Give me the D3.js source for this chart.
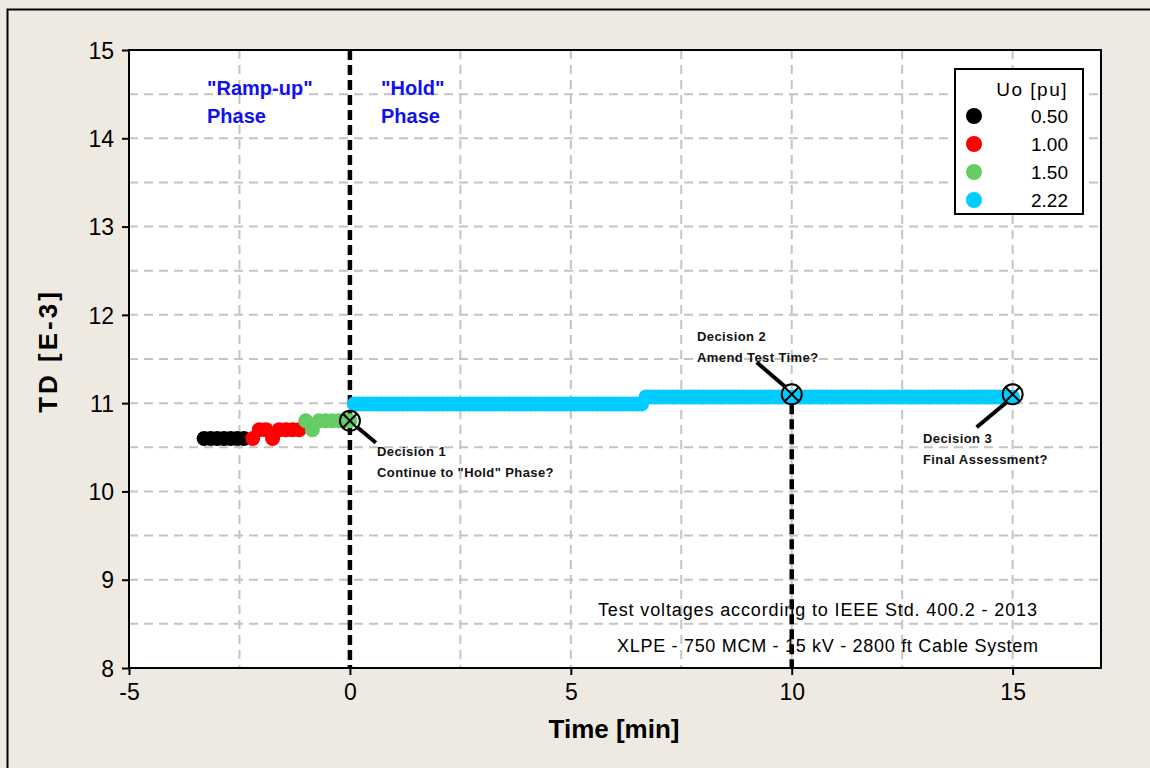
<!DOCTYPE html>
<html>
<head>
<meta charset="utf-8">
<script src="https://cdn.jsdelivr.net/npm/d3@7"></script>
<style>
	body { margin: 0; background: #eeeae1; }
	svg text { font-family: "Liberation Sans", Arial, sans-serif; }
</style>
</head>
<body>
<script>
// Ramp-up phase, one step per test voltage
const blackTime = [-3.3, -3.15, -3.0, -2.85, -2.7, -2.55, -2.4];
const blackTD = [10.6, 10.6, 10.6, 10.6, 10.6, 10.6, 10.6];
const redTime = [-2.2, -2.05, -1.9, -1.75, -1.6, -1.45, -1.3, -1.15];
const redTD = [10.6, 10.7, 10.7, 10.6, 10.7, 10.7, 10.7, 10.7];
const greenTime = [-1.0, -0.85, -0.7, -0.55, -0.4, -0.25, -0.1, 0.0];
const greenTD = [10.8, 10.7, 10.8, 10.8, 10.8, 10.8, 10.8, 10.8];

// Hold phase at 2.22 Uo, sampled every 0.1 min from 0.1 min
const holdStart = 0.1;
const holdStep = 0.1;
const holdTD = [
	10.99, 10.99, 10.99, 10.99, 10.99, 10.99, 10.99, 10.99, 10.99, 10.99,
	10.99, 10.99, 10.99, 10.99, 10.99, 10.99, 10.99, 10.99, 10.99, 10.99,
	10.99, 10.99, 10.99, 10.99, 10.99, 10.99, 10.99, 10.99, 10.99, 10.99,
	10.99, 10.99, 10.99, 10.99, 10.99, 10.99, 10.99, 10.99, 10.99, 10.99,
	10.99, 10.99, 10.99, 10.99, 10.99, 10.99, 10.99, 10.99, 10.99, 10.99,
	10.99, 10.99, 10.99, 10.99, 10.99, 10.99, 10.99, 10.99, 10.99, 10.99,
	10.99, 10.99, 10.99, 10.99, 10.99, 10.99, 11.07, 11.07, 11.07, 11.07,
	11.07, 11.07, 11.07, 11.07, 11.07, 11.07, 11.07, 11.07, 11.07, 11.07,
	11.07, 11.07, 11.07, 11.07, 11.07, 11.07, 11.07, 11.07, 11.07, 11.07,
	11.07, 11.07, 11.07, 11.07, 11.07, 11.07, 11.07, 11.07, 11.07, 11.07,
	11.07, 11.07, 11.07, 11.07, 11.07, 11.07, 11.07, 11.07, 11.07, 11.07,
	11.07, 11.07, 11.07, 11.07, 11.07, 11.07, 11.07, 11.07, 11.07, 11.07,
	11.07, 11.07, 11.07, 11.07, 11.07, 11.07, 11.07, 11.07, 11.07, 11.07,
	11.07, 11.07, 11.07, 11.07, 11.07, 11.07, 11.07, 11.07, 11.07, 11.07,
	11.07, 11.07, 11.07, 11.07, 11.07, 11.07, 11.07, 11.07, 11.07, 11.07
];

const seriesLabels = ['0.50', '1.00', '1.50', '2.22'];
const seriesColors = ['#000000', '#ff0000', '#66cc66', '#00ccff'];

const decisionTime = [0, 10, 15];
const decisionTD = [10.8, 11.1, 11.1];
const decisionTitles = ['Decision 1', 'Decision 2', 'Decision 3'];
const decisionQuestions = ['Continue to "Hold" Phase?', 'Amend Test Time?', 'Final Assessment?'];

const xTicks = [-5, 0, 5, 10, 15];
const yTicks = [8, 9, 10, 11, 12, 13, 14, 15];
const xGrid = [-2.5, 0, 2.5, 5, 7.5, 10, 12.5, 15];
const yGrid = [8.5, 9, 9.5, 10, 10.5, 11, 11.5, 12, 12.5, 13, 13.5, 14, 14.5];

const svg = d3.select('body')
	.append('svg')
	.attr('width', 1150)
	.attr('height', 768);

// outer frame
svg.append('path')
	.attr('d', 'M7.5,768 V9.5 H1150')
	.attr('fill', 'none')
	.attr('stroke', '#000')
	.attr('stroke-width', 2);

const xScale = d3.scaleLinear().domain([-5, 17]).range([129, 1101]);
const yScale = d3.scaleLinear().domain([8, 15]).range([668, 50]);

svg.append('rect')
	.attr('x', 129).attr('y', 50)
	.attr('width', 1101 - 129).attr('height', 668 - 50)
	.attr('fill', '#fff');

// grid
svg.append('g').selectAll('line')
	.data(xGrid)
	.enter().append('line')
	.attr('x1', d => xScale(d)).attr('x2', d => xScale(d))
	.attr('y1', 50).attr('y2', 668)
	.attr('stroke', '#c4c4c4').attr('stroke-width', 2)
	.attr('stroke-dasharray', '9,6');

svg.append('g').selectAll('line')
	.data(yGrid)
	.enter().append('line')
	.attr('y1', d => yScale(d)).attr('y2', d => yScale(d))
	.attr('x1', 129).attr('x2', 1101)
	.attr('stroke', '#c4c4c4').attr('stroke-width', 2)
	.attr('stroke-dasharray', '9,6');

// axes
const xAxis = d3.axisBottom(xScale).tickValues(xTicks).tickSize(7).tickPadding(9)
	.tickFormat(d => String(d));
const yAxis = d3.axisLeft(yScale).tickValues(yTicks).tickSize(7).tickPadding(8)
	.tickFormat(d => String(d));

const gx = svg.append('g')
	.attr('transform', 'translate(0,668)')
	.call(xAxis);
const gy = svg.append('g')
	.attr('transform', 'translate(129,0)')
	.call(yAxis);

[gx, gy].forEach(g => {
	g.select('.domain').remove();
	g.selectAll('line').attr('stroke', '#000').attr('stroke-width', 2);
	g.selectAll('text')
		.attr('fill', '#000')
		.style('font-size', '23px')
		.style('font-family', '"Liberation Sans", Arial, sans-serif');
});
gy.selectAll('text').attr('dy', '0.36em');

svg.append('text')
	.attr('x', 614).attr('y', 738)
	.attr('text-anchor', 'middle')
	.style('font-size', '26px').style('font-weight', 'bold')
	.text('Time [min]');

svg.append('text')
	.attr('transform', 'translate(57,351) rotate(-90)')
	.attr('text-anchor', 'middle')
	.style('font-size', '26px').style('font-weight', 'bold')
	.style('letter-spacing', '3px')
	.text('TD [E-3]');

// vertical phase / decision lines
svg.append('line')
	.attr('x1', xScale(0)).attr('x2', xScale(0))
	.attr('y1', yScale(15)).attr('y2', yScale(8))
	.attr('stroke', '#000').attr('stroke-width', 4.5)
	.attr('stroke-dasharray', '10,5');

svg.append('line')
	.attr('x1', xScale(10)).attr('x2', xScale(10))
	.attr('y1', yScale(11.1) + 10).attr('y2', yScale(8))
	.attr('stroke', '#000').attr('stroke-width', 4.5)
	.attr('stroke-dasharray', '10,5');

// points
const holdTime = holdTD.map((d, i) => +(holdStart + i * holdStep).toFixed(2));
const groups = [
	{ time: blackTime, td: blackTD, color: seriesColors[0] },
	{ time: redTime, td: redTD, color: seriesColors[1] },
	{ time: greenTime, td: greenTD, color: seriesColors[2] },
	{ time: holdTime, td: holdTD, color: seriesColors[3] }
];

groups.forEach(grp => {
	svg.append('g').selectAll('circle')
		.data(grp.time.map((t, i) => ({ t: t, v: grp.td[i] })))
		.enter().append('circle')
		.attr('cx', d => xScale(d.t))
		.attr('cy', d => yScale(d.v))
		.attr('r', 7.5)
		.attr('fill', grp.color);
});

// plot frame
svg.append('rect')
	.attr('x', 129).attr('y', 50)
	.attr('width', 1101 - 129).attr('height', 668 - 50)
	.attr('fill', 'none').attr('stroke', '#000').attr('stroke-width', 2);

// decision markers
const markR = 10;
const markers = svg.append('g').selectAll('g')
	.data(decisionTime.map((t, i) => ({ t: t, v: decisionTD[i] })))
	.enter().append('g')
	.attr('transform', d => `translate(${xScale(d.t)},${yScale(d.v)})`);

markers.append('circle')
	.attr('r', markR)
	.attr('fill', 'none').attr('stroke', '#000').attr('stroke-width', 2);
markers.append('path')
	.attr('d', 'M-7,-7L7,7M7,-7L-7,7')
	.attr('stroke', '#000').attr('stroke-width', 2);

// leader lines (offsets in pixels from each marker)
const leaderFrom = [[8, 7], [-6, -7], [-6, 8]];
const leaderTo = [[26, 22], [-35, -32], [-36, 33]];
markers.append('line')
	.attr('x1', (d, i) => leaderFrom[i][0]).attr('y1', (d, i) => leaderFrom[i][1])
	.attr('x2', (d, i) => leaderTo[i][0]).attr('y2', (d, i) => leaderTo[i][1])
	.attr('stroke', '#000').attr('stroke-width', 4);

const labelPos = [[377, 456], [697, 341], [923, 443]];
decisionTitles.forEach((title, i) => {
	const t = svg.append('text')
		.attr('x', labelPos[i][0]).attr('y', labelPos[i][1])
		.style('font-size', '13px').style('font-weight', 'bold')
		.style('letter-spacing', '0.4px')
		.attr('fill', '#111');
	t.append('tspan').attr('x', labelPos[i][0]).text(title);
	t.append('tspan').attr('x', labelPos[i][0]).attr('dy', 21).text(decisionQuestions[i]);
});

// phase labels
const phaseText = [['"Ramp-up"', 'Phase', 207], ['"Hold"', 'Phase', 381]];
phaseText.forEach(p => {
	const t = svg.append('text')
		.attr('y', 95)
		.attr('fill', '#1010f0')
		.style('font-size', '20px').style('font-weight', 'bold');
	t.append('tspan').attr('x', p[2]).text(p[0]);
	t.append('tspan').attr('x', p[2]).attr('dy', 28).text(p[1]);
});

// footnote
svg.append('text')
	.attr('x', 598).attr('y', 616)
	.attr('textLength', 439).attr('lengthAdjust', 'spacing')
	.style('font-size', '18px')
	.text('Test voltages according to IEEE Std. 400.2 - 2013');
svg.append('text')
	.attr('x', 617).attr('y', 652)
	.attr('textLength', 421).attr('lengthAdjust', 'spacing')
	.style('font-size', '18px')
	.text('XLPE - 750 MCM - 15 kV - 2800 ft Cable System');

// legend
const legend = svg.append('g').attr('transform', 'translate(955,69)');
legend.append('rect')
	.attr('width', 128).attr('height', 145)
	.attr('fill', '#fff').attr('stroke', '#000').attr('stroke-width', 2);
legend.append('text')
	.attr('x', 113).attr('y', 27)
	.attr('text-anchor', 'end')
	.style('font-size', '19px')
	.style('letter-spacing', '1.5px')
	.text('Uo [pu]');

const entries = legend.selectAll('.legend-entry')
	.data(seriesLabels)
	.enter().append('g')
	.attr('class', 'legend-entry')
	.attr('transform', (d, i) => `translate(0, ${47 + i * 28})`);

entries.append('circle')
	.attr('cx', 19).attr('r', 8)
	.attr('fill', (d, i) => seriesColors[i]);
entries.append('text')
	.attr('x', 113).attr('dy', '0.36em')
	.attr('text-anchor', 'end')
	.style('font-size', '19px')
	.text(d => d);
</script>
</body>
</html>
